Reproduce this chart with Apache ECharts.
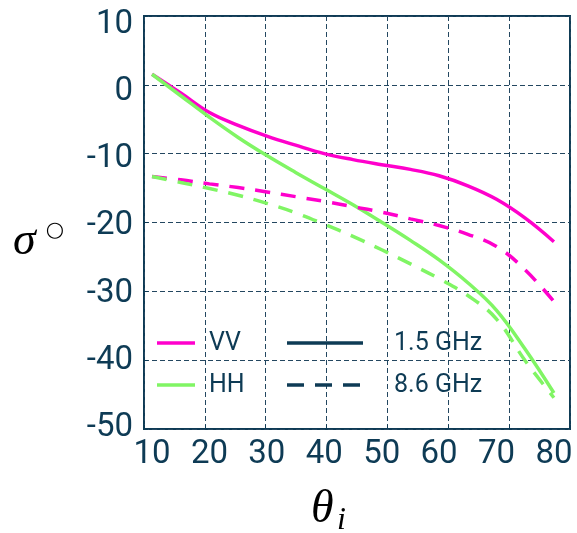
<!DOCTYPE html>
<html><head><meta charset="utf-8">
<script src="https://cdn.jsdelivr.net/npm/echarts@6/dist/echarts.min.js"></script>
<style>html,body{margin:0;padding:0;background:#fff}#c{width:577px;height:533px}</style>
</head><body><div id="c"></div>
<script>
// incidence angle (deg)
const angles = [10,15,20,25,30,35,40,45,50,55,60,65,70,75,80];
// backscatter sigma0 (dB)
const vv15 = [2.6,-0.2,-3.1,-5.0,-6.6,-7.95,-9.2,-10.1,-10.85,-11.55,-12.5,-14.0,-16.0,-18.8,-22.3];
const vv86 = [-12.6,-13.1,-13.7,-14.25,-14.9,-15.6,-16.3,-17.1,-17.9,-18.9,-19.9,-21.2,-23.0,-26.5,-31.2];
const hh15 = [2.6,-0.6,-3.8,-6.8,-9.5,-12.0,-14.4,-16.8,-19.4,-22.1,-25.0,-28.4,-32.5,-38.3,-44.8];
const hh86 = [-12.6,-13.5,-14.4,-15.4,-16.6,-18.0,-19.7,-21.5,-23.5,-25.6,-27.8,-30.3,-33.8,-40.0,-45.5];
const xTicks = [10,20,30,40,50,60,70,80];
const yTicks = [10,0,-10,-20,-30,-40,-50];
const legendPol = ['VV','HH'];
const legendFreq = ['1.5 GHz','8.6 GHz'];

const NAVY = '#0e3b55';
const MAG = '#ff00cc';
const GRN = '#80f564';
const pairs = (ys) => angles.map((a,i)=>[a, ys[i]]);

const chart = echarts.init(document.getElementById('c'));
const lbl = {fontFamily:'Roboto', fontSize:33, color:NAVY};
const gridLine = {show:true, lineStyle:{color:'#234760', width:1, type:[5,3]}};

function mkSeries(name, ys, color, dashed){
  return {type:'line', name, data:pairs(ys), smooth:0.4, symbol:'none', z:5,
    xAxisIndex:0, yAxisIndex:0,
    lineStyle:{color, width:3.5, type: dashed ? [15,11] : 'solid', cap:'butt'}};
}

chart.setOption({
  animation:false,
  backgroundColor:'#fff',
  grid:{left:144, top:16, right:7, bottom:104, show:true, borderColor:NAVY, borderWidth:2, backgroundColor:'transparent'},
  xAxis:[
    {type:'value', min:8.6, max:82.8, axisLine:{show:false}, axisTick:{show:false}, splitLine:{show:false},
     axisLabel:Object.assign({customValues:xTicks, margin:9}, lbl)},
    {type:'value', min:0, max:7, interval:1, position:'bottom', axisLine:{show:false},
     axisTick:{show:true, inside:true, length:4, lineStyle:{color:NAVY}}, axisLabel:{show:false}, splitLine:gridLine}
  ],
  yAxis:[
    {type:'value', min:-50.15, max:11.26, axisLine:{show:false}, axisTick:{show:false}, splitLine:{show:false},
     axisLabel:Object.assign({customValues:yTicks, margin:11}, lbl)},
    {type:'value', min:0, max:6, interval:1, position:'left', axisLine:{show:false},
     axisTick:{show:true, inside:true, length:4, lineStyle:{color:NAVY}}, axisLabel:{show:false}, splitLine:gridLine}
  ],
  series:[
    mkSeries('VV 1.5 GHz', vv15, MAG, false),
    mkSeries('HH 1.5 GHz', hh15, GRN, false),
    mkSeries('VV 8.6 GHz', vv86, MAG, true),
    mkSeries('HH 8.6 GHz', hh86, GRN, true)
  ],
  graphic:[
    // legend
    {type:'line', shape:{x1:157,y1:343,x2:195,y2:343}, style:{stroke:MAG, lineWidth:3.5}, z:10},
    {type:'line', shape:{x1:157,y1:385,x2:195,y2:385}, style:{stroke:GRN, lineWidth:3.5}, z:10},
    {type:'text', x:209, y:344, style:{text:legendPol[0], fill:NAVY, font:'25px Roboto', textVerticalAlign:'middle'}, z:10},
    {type:'text', x:209, y:386, style:{text:legendPol[1], fill:NAVY, font:'25px Roboto', textVerticalAlign:'middle'}, z:10},
    {type:'line', shape:{x1:287,y1:343,x2:363,y2:343}, style:{stroke:NAVY, lineWidth:3.5}, z:10},
    {type:'line', shape:{x1:287,y1:385,x2:363,y2:385}, style:{stroke:NAVY, lineWidth:3.5, lineDash:[17,11]}, z:10},
    {type:'text', x:394, y:344, style:{text:legendFreq[0], fill:NAVY, font:'25px Roboto', textVerticalAlign:'middle'}, z:10},
    {type:'text', x:394, y:386, style:{text:legendFreq[1], fill:NAVY, font:'25px Roboto', textVerticalAlign:'middle'}, z:10},
    // axis titles
    {type:'text', x:13, y:242, style:{text:'σ', fill:'#000', font:'italic 46px "Liberation Serif"', textVerticalAlign:'middle'}},
    {type:'text', x:55, y:231, style:{text:'○', fill:'#000', font:'21px "DejaVu Sans"', textAlign:'center', textVerticalAlign:'middle'}},
    {type:'text', x:311, y:510, style:{text:'θ', fill:'#000', font:'italic 46px "Liberation Serif"', textVerticalAlign:'middle'}},
    {type:'text', x:337, y:521, style:{text:'i', fill:'#000', font:'italic 32px "Liberation Serif"', textVerticalAlign:'middle'}}
  ]
});
</script></body></html>
